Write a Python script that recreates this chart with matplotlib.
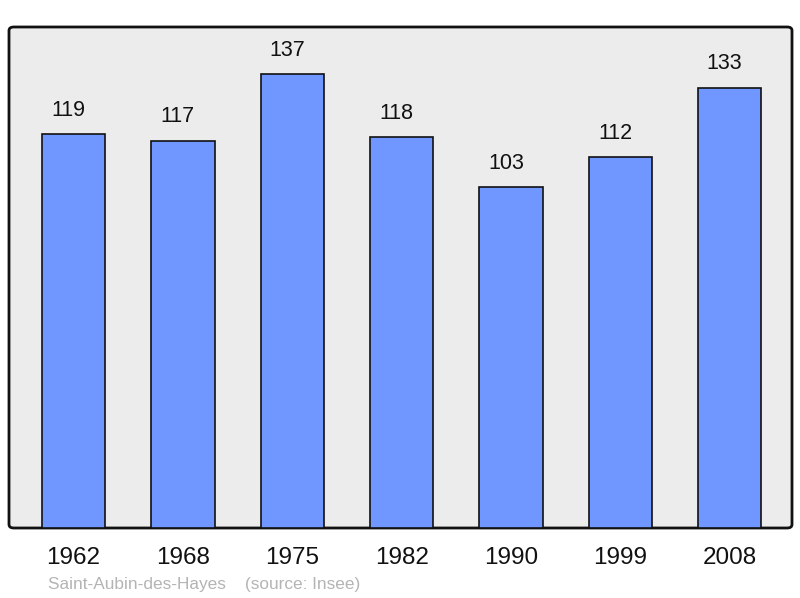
import matplotlib
matplotlib.use("Agg")
import matplotlib.pyplot as plt
from matplotlib.patches import FancyBboxPatch

years = ["1962", "1968", "1975", "1982", "1990", "1999", "2008"]
population = [119, 117, 137, 118, 103, 112, 133]
commune = "Saint-Aubin-des-Hayes"
source = "(source: Insee)"

plt.rcParams['font.family'] = ['Liberation Sans', 'DejaVu Sans']

W, H = 800, 598
fig = plt.figure(figsize=(W/100, H/100), dpi=100)
fig.patch.set_facecolor('white')

x0, x1, y0, y1 = 9, 792, 27, 528
ax = fig.add_axes([x0/W, 1 - y1/H, (x1-x0)/W, (y1-y0)/H])
ax.set_facecolor('none')
ax.set_zorder(1)

# rounded background box
box = FancyBboxPatch((x0/W, 1 - y1/H), (x1-x0)/W, (y1-y0)/H,
                     boxstyle="round,pad=0,rounding_size=0.006",
                     transform=fig.transFigure, facecolor='#ececec',
                     edgecolor='#111111', linewidth=2, zorder=-1)
fig.patches.append(box)

xs = list(range(len(years)))
bars = ax.bar(xs, population, width=0.58, color='#7096ff', edgecolor='#111111',
              linewidth=1.2, zorder=2)
for xi, v in zip(xs, population):
    ax.annotate(str(v), (xi, v), xytext=(-3.6, 9.5), textcoords='offset points',
                ha='center', va='bottom', fontsize=15.5, color='#111111')

ax.set_xlim(-0.59, 6.57)
ax.set_ylim(0, 151.3)
for s in ax.spines.values():
    s.set_visible(False)
ax.set_yticks([])
ax.set_xticks(xs)
ax.set_xticklabels(years, fontsize=17.5, color='#111111')
ax.tick_params(axis='x', length=0, pad=13.5)

fig.text(48/W, 1 - 585/H, commune + "    " + source, fontsize=12.4,
         color='#b4b4b4', ha='left', va='center')

fig.savefig("out.png", dpi=100)
